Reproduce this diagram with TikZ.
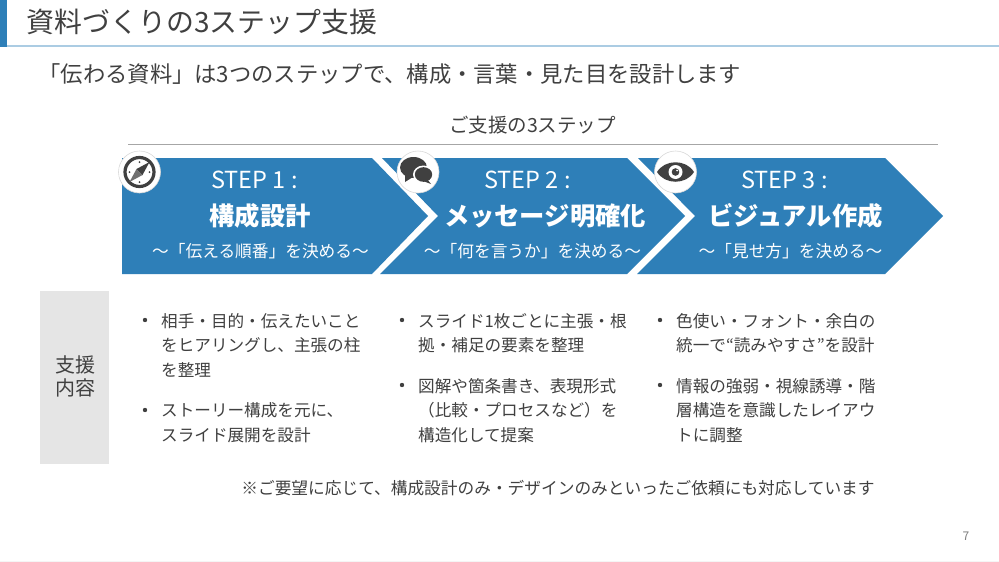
\documentclass[tikz,border=0pt]{standalone}
\usepackage{fontspec}
\setmainfont{Noto Sans CJK JP}
\definecolor{stepblue}{HTML}{2E7FB8}
\definecolor{txt}{HTML}{404040}
\definecolor{icon}{HTML}{404040}
\newcommand{\fs}[1]{\fontsize{#1}{#1}\selectfont}
\tikzset{
  chevron/.style={fill=stepblue,draw=none},
  lbl/.style={inner sep=0pt,outer sep=0pt,text=txt},
  steptitle/.style={inner sep=0pt,text=white,font=\fs{23.5},anchor=west},
  stepname/.style={inner sep=0pt,text=white,font=\fs{25.3}\bfseries},
  stepsub/.style={inner sep=0pt,text=white,font=\fs{16.7}},
  bul/.style={inner sep=0pt,text=txt,font=\fontsize{16.6}{24.6}\selectfont,anchor=north west,align=left},
  dotb/.style={circle,fill=txt,inner sep=0pt,minimum size=4.4pt},
  iconbg/.style={circle,fill=white,draw=black!15,line width=.6pt,minimum size=42pt,inner sep=0pt},
}
\begin{document}
\begin{tikzpicture}[x=1pt,y=-1pt]
\useasboundingbox (0,0) rectangle (999,562);
\fill[white] (0,0) rectangle (999,562);
% header
\fill[black!4] (0,560.5) rectangle (999,562);
\fill[stepblue!40!white] (0,45) rectangle (999,47);
\fill[stepblue] (0,0) rectangle (7,47);
\node[lbl,anchor=west,font=\fs{27.9}] (title) at (27,22) {資料づくりの3ステップ支援};
\node[lbl,anchor=west,font=\fs{22.3}] (sub) at (38.5,74) {「伝わる資料」は3つのステップで、構成・言葉・見た目を設計します};
\node[lbl,font=\fs{19.5}] (head) at (532.5,125) {ご支援の3ステップ};
\coordinate (ruleL) at (128,144);
\coordinate (ruleR) at (938,144);
\draw[black!35,line width=.9pt] (ruleL) -- (ruleR);
% chevrons
\fill[chevron] (122,158) -- (372,158) -- (428,216) -- (372,274) -- (122,274) -- cycle;
\fill[chevron] (382,158) -- (627,158) -- (685,216) -- (627,274) -- (380,274) -- (438,216) -- cycle;
\fill[chevron] (638,158) -- (885,158) -- (943,216) -- (885,274) -- (637,274) -- (695,216) -- cycle;
% step text
\node[steptitle] (s1) at (211,180) {STEP 1 :};
\node[stepname] (n1) at (260,216) {構成設計};
\node[stepsub] (c1) at (260.5,251) {～「伝える順番」を決める～};
\node[steptitle] (s2) at (484,180) {STEP 2 :};
\node[stepname] (n2) at (545,216) {メッセージ明確化};
\node[stepsub] (c2) at (532.5,251) {～「何を言うか」を決める～};
\node[steptitle] (s3) at (741,180) {STEP 3 :};
\node[stepname] (n3) at (795.5,216) {ビジュアル作成};
\node[stepsub] (c3) at (790.5,251) {～「見せ方」を決める～};
% icons
\node[iconbg] (i1) at (139.5,172) {};
\node[iconbg] (i2) at (418,172) {};
\node[iconbg] (i3) at (675.5,172) {};
% compass
\draw[icon,line width=3.2pt] (139.5,172) circle (14.5pt);
\fill[icon] (149.5,162) -- (142.5,175) -- (136.5,169) -- cycle;
\fill[icon!75!white] (129.5,182) -- (136.5,169) -- (142.5,175) -- cycle;
\fill[icon] (139.5,162) circle (1pt) (139.5,182) circle (1pt) (129.5,172) circle (1pt) (149.5,172) circle (1pt);
% bubbles
\fill[icon] (413.5,167.5) ellipse (13.5pt and 10.5pt);
\fill[icon] (405,174) -- (405,182) -- (413,177) -- cycle;
\fill[white] (423.5,174.5) ellipse (10.5pt and 9pt);
\fill[icon] (423.5,174.5) ellipse (8.7pt and 7.3pt);
\fill[icon] (427,179) -- (431,184) -- (423,181) -- cycle;
% eye
\fill[icon] (657,172) .. controls (665,159) and (686,159) .. (694,172) .. controls (686,185) and (665,185) .. (657,172) -- cycle;
\fill[white] (675.5,172) circle (7pt);
\fill[icon] (675.5,172) circle (3.8pt);
\fill[white] (677,170.5) circle (1pt);
% box
\fill[black!10] (40,291) rectangle (109,464);
\node[lbl,align=center,font=\fontsize{20}{23}\selectfont] (box) at (75,376) {支援\\内容};
% bullets
\node[dotb] (d1) at (145,320) {};
\node[bul] (t1) at (161,313) {相手・目的・伝えたいこと\\をヒアリングし、主張の柱\\を整理};
\node[dotb] (d2) at (145,410) {};
\node[bul] (t2) at (161,402.5) {ストーリー構成を元に、\\スライド展開を設計};
\node[dotb] (d3) at (402,320) {};
\node[bul] (t3) at (418,313) {スライド1枚ごとに主張・根\\拠・補足の要素を整理};
\node[dotb] (d4) at (402,385) {};
\node[bul] (t4) at (418,378) {図解や箇条書き、表現形式\\（比較・プロセスなど）を\\構造化して提案};
\node[dotb] (d5) at (660,320) {};
\node[bul] (t5) at (676,313) {色使い・フォント・余白の\\統一で“読みやすさ”を設計};
\node[dotb] (d6) at (660,385) {};
\node[bul] (t6) at (676,378) {情報の強弱・視線誘導・階\\層構造を意識したレイアウ\\トに調整};
% footnote
\node[lbl,font=\fs{16.7}] (foot) at (558,488) {※ご要望に応じて、構成設計のみ・デザインのみといったご依頼にも対応しています};
\node[inner sep=0pt,text=black!50,font=\fs{12}] (pg) at (966,536) {7};
\end{tikzpicture}
\end{document}
